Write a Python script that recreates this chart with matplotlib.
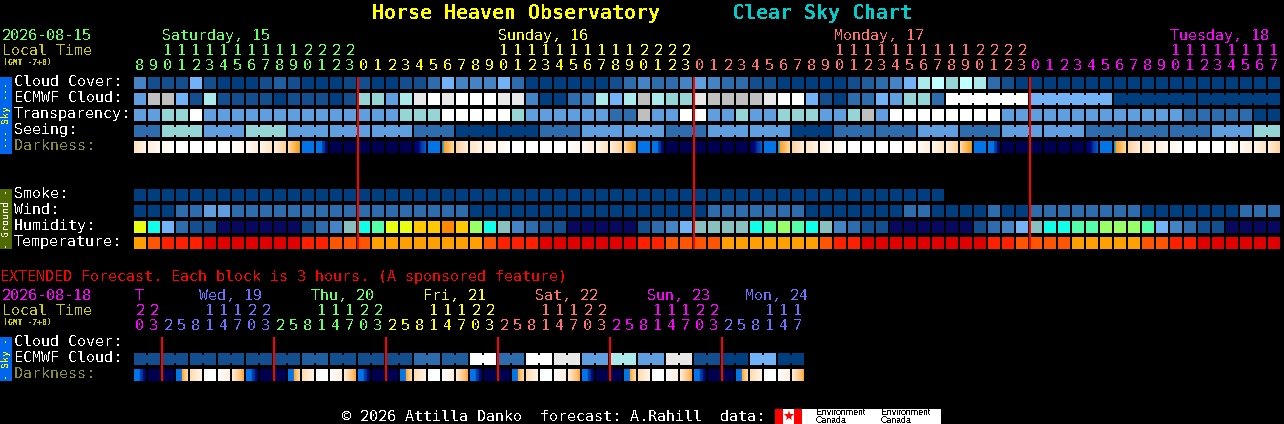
import numpy as np
import matplotlib
matplotlib.use("Agg")
import matplotlib.pyplot as plt
from matplotlib.colors import to_rgb
from matplotlib.patches import Rectangle

plt.rcParams["text.antialiased"] = False
plt.rcParams["text.hinting"] = "native"

# ---------- data ----------
SMOKE = "a" * 58
CLOUD = "dbbbfbaaab" "tbaaapbaab" "bcfdddfcaa" "aaaabcdccd" "edccbbaaaa" "abtcdfhigi" "hcbaaaaaaa" "aaaaaaaaaaaa"
ECMWF = "ejjfbhbbbb" "abbbabggeh" "kwkwwwkkda" "acdhfhjhgg" "kjjjjkwwfb" "accfeggcww" "wwwwffffff" "aaaaaaaaaaaa"
TRANSP = "eeggweeeee" "eeeeeeeeeg" "ggwwwwwgee" "eeeeccjeew" "weegeeggge" "egjewwwwww" "wweeeeeeee" "eeeeecccccaa"
SEEING = "ccgggeeeggg" "eeeeeeeeecccaaaaaaccc" "eeeeeecccee" "eeeeaaaccc" "ccceeeccceeeeeeccc" "cccccceeegg"
WIND = "aaacceeccc" "cccccccccc" "ccccaaaaaa" "aaaaaaaaaa" "accccccc" "aa" "aaaaaccaaa" "acaacccccc" "ccaaaaaaaccc"
HUMID = "yCfcbbnnnn" "nnbcdmCGyy" "OOROLCmdcb" "bnnnnnbcdf" "mmmmCGLGCm" "dcbbnnnnnn" "bcdfmCCGGL" "LLGfdcbbnnnn"
TEMP = "oqrrrxxxxx" "xxrrqqqooo" "oooooqrrrx" "xxxxxxrrqq" "qqoooooooq" "rrxxxxxxxx" "xrrqqqqooo" "ooqqrrxxxxxx"
DARK = "DEFWWWWfedcoSmXXXXXXnSOCDEFWWWWfedcoSmXXXXXXnSOCDEFWWWWfedcoSmXXXXXXnSOCDEFWWWfedc"
SEEING_GROUPS = [2] + [3] * 26 + [2]
ECMWF_JOINS = [(58, 6), (64, 6), (70, 6), (76, 6)]

EXT_ECMWF = "bbbbbbtbbbctwcwkehekbafa"
EXT_DARK = "QXXRGWgHQXXRGWgHQXXRGWgHQXXRGWgHQXXRGWgHQXXRGWgH"

MAIN_HOURS = [8, 9, 10, 11, 12, 13, 14, 15, 16, 17, 18, 19, 20, 21, 22, 23,
              0, 1, 2, 3, 4, 5, 6, 7, 8, 9, 10, 11, 12, 13, 14, 15, 16, 17, 18, 19, 20, 21, 22, 23,
              0, 1, 2, 3, 4, 5, 6, 7, 8, 9, 10, 11, 12, 13, 14, 15, 16, 17, 18, 19, 20, 21, 22, 23,
              0, 1, 2, 3, 4, 5, 6, 7, 8, 9, 10, 11, 12, 13, 14, 15, 16, 17]
MAIN_DAYS = [("Saturday, 15", 2, 16), ("Sunday, 16", 26, 40), ("Monday, 17", 50, 64), ("Tuesday, 18", 74, 82)]
EXT_HOURS = [20, 23,
             2, 5, 8, 11, 14, 17, 20, 23, 2, 5, 8, 11, 14, 17, 20, 23, 2, 5, 8, 11, 14, 17, 20, 23,
             2, 5, 8, 11, 14, 17, 20, 23, 2, 5, 8, 11, 14, 17, 20, 23, 2, 5, 8, 11, 14, 17]
EXT_DAYS = [("T", 0, 2, 135), ("Wed, 19", 2, 10, 199), ("Thu, 20", 10, 18, 311), ("Fri, 21", 18, 26, 423),
            ("Sat, 22", 26, 34, 535), ("Sun, 23", 34, 42, 647), ("Mon, 24", 42, 48, 745)]

# ---------- style ----------
PAL = dict(a="#003f7f", p="#0a4886", b="#134f8f", t="#1f5f9f", c="#2d6dad", d="#4484c4",
           e="#5f9fdf", f="#72b2f6", g="#95d5d5", h="#aaeaea", i="#bfffff", j="#bfbfbf",
           k="#e8e8e8", w="#ffffff", y="#e8ff14", C="#10ffe8", n="#08085f", G="#55ffaa",
           O="#ffc800", R="#ff8800", L="#99ff66", m="#88bfbf", o="#ffa000", q="#ff5500",
           r="#ff2000", x="#e00000")
B, NI = "#0074e8", "#000050"
GRAD = {
    "W": [(0, "#ffffff"), (1, "#ffffff")],
    "S": [(0, B), (1, B)],
    "X": [(0, NI), (1, NI)],
    "D": [(0, "#ffe2c0"), (1, "#fff4e8")],
    "E": [(0, "#ffeeda"), (1, "#fffaf4")],
    "F": [(0, "#fff6ec"), (1, "#ffffff")],
    "f": [(0, "#ffffff"), (1, "#fff6ec")],
    "e": [(0, "#fffaf4"), (1, "#ffeeda")],
    "d": [(0, "#fff6ea"), (1, "#ffe2c0")],
    "c": [(0, "#ffeeda"), (1, "#ffd09a")],
    "o": [(0, "#ffdcae"), (.75, "#ffa828"), (.9, "#ffa020"), (1, "#40c0a0")],
    "O": [(0, B), (.1, "#20b0c0"), (.2, "#ffa020"), (1, "#ffdca8")],
    "C": [(0, "#ffd0a0"), (1, "#ffeeda")],
    "m": [(0, B), (.45, B), (.5, "#0048c0"), (.75, "#0030a0"), (.8, "#000a60"), (1, "#000a60")],
    "n": [(0, "#000060"), (.45, "#000a80"), (.55, "#0030a0"), (1, "#0060d0")],
    "Q": [(0, B), (.45, B), (.5, "#0040b0"), (.75, "#0030a0"), (.8, "#000870"), (1, "#000868")],
    "R": [(0, B), (.45, B), (.5, "#ffa020"), (.7, "#ffc070"), (1, "#ffdca8")],
    "G": [(0, "#ffdcae"), (1, "#fff6ea")],
    "g": [(0, "#ffffff"), (1, "#ffeedd")],
    "H": [(0, "#ffeedd"), (.75, "#ffc070"), (1, "#ffa030")],
}
GREEN, YEL, PINK, MAG, BLU = "#66ff66", "#ffff00", "#ff7070", "#ff00ff", "#7070ff"
MONO = ["DejaVu Sans Mono", "Liberation Mono"]
CW, CH, PITCH, X0 = 12, 12, 14, 134

fig = plt.figure(figsize=(12.84, 4.24), dpi=100, facecolor="black")
ax = fig.add_axes([0, 0, 1, 1], facecolor="black")
ax.set_axis_off()


def rect(x, y, w, h, color, z=2):
    ax.add_patch(Rectangle((x, y), w, h, facecolor=color, edgecolor="none", antialiased=True, snap=False, zorder=z))


def txt(x, y, s, color="white", size=15, weight="normal", ha="left", **kw):
    ax.text(x, y, s, color=color, fontsize=size * 0.72, fontweight=weight, ha=ha, va="baseline",
            family=MONO, zorder=5, **kw)


def row(codes, y):
    for i, ch in enumerate(codes):
        rect(X0 + i * PITCH, y, CW, CH, PAL[ch])


def joins(codes, y, groups):
    for start, n in groups:
        for i in range(start, start + n - 1):
            rect(X0 + i * PITCH + CW, y + 2, PITCH - CW, CH - 4, PAL[codes[i]])


def grad_row(codes, y):
    for i, ch in enumerate(codes):
        stops = GRAD[ch]
        pos = [s[0] for s in stops]
        cols = np.array([to_rgb(s[1]) for s in stops])
        t = (np.arange(CW) + .5) / CW
        img = np.stack([np.interp(t, pos, cols[:, k]) for k in range(3)], axis=1)[None, :, :]
        x = X0 + i * PITCH
        ax.imshow(img, extent=(x, x + CW, y + CH, y), interpolation="nearest", aspect="auto", zorder=2)


# title
txt(372, 19, "Horse Heaven Observatory", YEL, 20, "bold")
txt(732, 19, "Clear Sky Chart", "#00cccc", 20, "bold")

# main header
txt(2, 40, "2026-08-15", GREEN)
txt(2, 55, "Local Time", "#cccc00")
txt(3, 65, "(GMT -7+0)", "#cccc00", 8, "bold")
for (label, start, end), col, lx in zip(MAIN_DAYS, [GREEN, YEL, PINK, MAG], [162, 498, 834, 1170]):
    txt(lx, 40, label, col)
    for i in range(start, end):
        txt(X0 + i * PITCH + 6, 55, str(MAIN_HOURS[i] // 10), col, ha="center")
for i, h in enumerate(MAIN_HOURS):
    col = GREEN if i < 16 else YEL if i < 40 else PINK if i < 64 else MAG
    txt(X0 + i * PITCH + 6, 70, str(h % 10), col, ha="center")

# side bars
rect(0, 77, 12, 77, "#0066ee")
rect(0, 189, 12, 60, "#4f6a00")
rect(0, 337, 12, 44, "#0066ee")
for yc, s, col in [(115.5, "--- Sky ---", YEL), (219, "- Ground -", "white"), (359, "- Sky -", YEL)]:
    ax.text(6, yc, s, color=col, fontsize=7.2, rotation=90, ha="center", va="center", family=MONO, zorder=5)

# main rows
for y, label, col in [(86, "Cloud Cover:", "white"), (102, "ECMWF Cloud:", "white"), (118, "Transparency:", "white"),
                      (134, "Seeing:", "white"), (150, "Darkness:", "#8c8c30"), (198, "Smoke:", "white"),
                      (214, "Wind:", "white"), (230, "Humidity:", "white"), (246, "Temperature:", "white")]:
    txt(14, y, label, col)
row(CLOUD, 77)
row(ECMWF, 93)
joins(ECMWF, 93, ECMWF_JOINS)
row(TRANSP, 109)
row(SEEING, 125)
starts = np.cumsum([0] + SEEING_GROUPS[:-1])
joins(SEEING, 125, list(zip(starts, SEEING_GROUPS)))
grad_row(DARK, 141)
row(SMOKE, 189)
row(WIND, 205)
row(HUMID, 221)
row(TEMP, 237)
for x in (357, 693, 1029):
    rect(x, 77, 2, 172, "#ff0000", 4)

# extended
txt(0, 281, "EXTENDED Forecast. Each block is 3 hours. (A sponsored feature)", "#ff0000")
txt(2, 300, "2026-08-18", MAG)
txt(2, 315, "Local Time", "#cccc00")
txt(3, 325, "(GMT -7+0)", "#cccc00", 8, "bold")
for (label, start, end, lx), col in zip(EXT_DAYS, [MAG, BLU, GREEN, YEL, PINK, MAG, BLU]):
    txt(lx, 300, label, col)
    for i in range(start, end):
        h = EXT_HOURS[i]
        if h >= 10:
            txt(X0 + i * PITCH + 6, 315, str(h // 10), col, ha="center")
        txt(X0 + i * PITCH + 6, 330, str(h % 10), col, ha="center")
for y, label, col in [(346, "Cloud Cover:", "white"), (362, "ECMWF Cloud:", "white"), (378, "Darkness:", "#8c8c30")]:
    txt(14, y, label, col)
ext_codes = "".join(c * 2 for c in EXT_ECMWF)
row(ext_codes, 353)
joins(ext_codes, 353, [(k * 2, 2) for k in range(len(EXT_ECMWF))])
grad_row(EXT_DARK, 369)
for x in (161, 273, 385, 497, 609, 721):
    rect(x, 337, 2, 44, "#ff0000", 4)

# footer
txt(342, 421, "\u00a9 2026 Attilla Danko  forecast: A.Rahill  data:", "white")
rect(775, 409, 166, 15, "white")
rect(775, 409, 8, 15, "#ff0000", 3)
rect(794, 409, 8, 15, "#ff0000", 3)
ax.plot([788.5], [416], marker="*", color="#ff0000", markersize=8, markeredgewidth=0, zorder=4)
for x in (816, 881):
    for y, s in [(415, "Environment"), (423, "Canada")]:
        ax.text(x, y, s, color="black", fontsize=6.3, family=["Liberation Sans"], va="baseline", ha="left", zorder=5)

ax.set_xlim(0, 1284)
ax.set_ylim(424, 0)
fig.savefig("out.png", dpi=100, facecolor="black")
